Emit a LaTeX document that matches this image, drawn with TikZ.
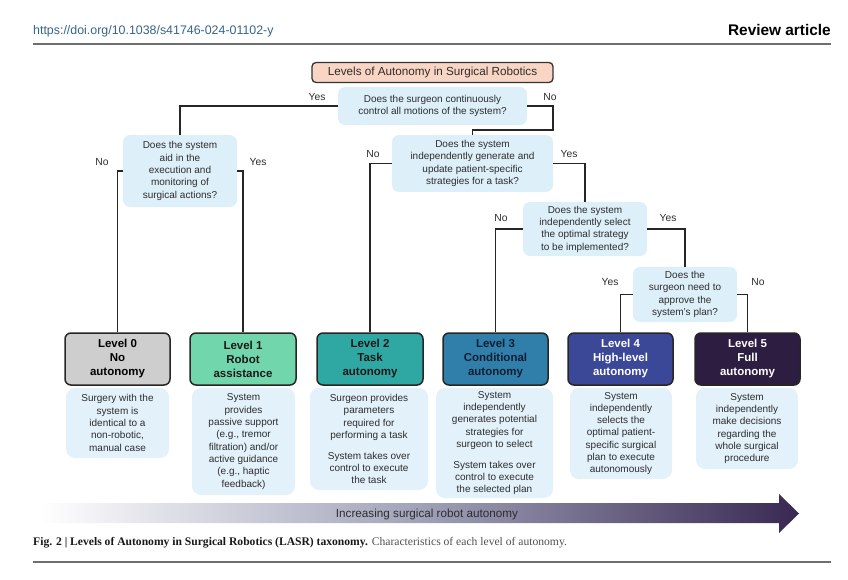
\documentclass[tikz,border=0pt]{standalone}
\usepackage{fontspec}
\setmainfont{Liberation Sans}
\newfontfamily\serifcap{Liberation Serif}
\definecolor{qblue}{RGB}{221,239,249}
\definecolor{dblue}{RGB}{226,241,250}
\definecolor{titlefill}{RGB}{249,213,196}
\definecolor{lzero}{RGB}{206,206,206}
\definecolor{lone}{RGB}{114,214,172}
\definecolor{ltwo}{RGB}{47,168,163}
\definecolor{lthree}{RGB}{47,127,170}
\definecolor{lfour}{RGB}{59,72,152}
\definecolor{lfive}{RGB}{45,29,64}
\definecolor{txtgray}{RGB}{45,45,45}
\definecolor{linkblue}{RGB}{52,100,140}
\definecolor{rulegray}{RGB}{110,110,110}
\definecolor{arrowdark}{RGB}{56,40,82}
\definecolor{arrowmid}{RGB}{160,162,184}
\definecolor{capgray}{RGB}{80,80,80}
\definecolor{navytxt}{RGB}{20,30,50}
\begin{document}
\begin{tikzpicture}[x=1pt,y=-1pt,
  qbox/.style={fill=qblue, rounded corners=7pt, align=center, inner sep=0pt,
    text=txtgray, font=\fontsize{10}{12.3}\selectfont},
  dbox/.style={fill=dblue, rounded corners=9pt, align=center, inner sep=0pt,
    text=txtgray, font=\fontsize{10}{12.3}\selectfont},
  lvbox/.style={draw=black!85, line width=1.5pt, rounded corners=6pt, align=center,
    inner sep=0pt, minimum height=52pt, font=\bfseries\fontsize{11.5}{14}\selectfont},
  conn/.style={line width=1.5pt, draw=black!85},
  yn/.style={text=txtgray, inner sep=0pt, font=\fontsize{10.3}{12}\selectfont}
]
\useasboundingbox (0,0) rectangle (848,580);
% header
\node[anchor=base west, inner sep=0pt, text=linkblue, font=\fontsize{12.4}{14}\selectfont] (doi) at (33,35) {https://doi.org/10.1038/s41746-024-01102-y};
\node[anchor=base east, inner sep=0pt, text=black, font=\bfseries\fontsize{15.4}{17}\selectfont] (rev) at (831,36) {Review article};
\draw[rulegray, line width=1.5pt] (33,44) -- (831,44);
% title
\node[draw=black!80, line width=1.3pt, fill=titlefill, rounded corners=4pt, inner sep=0pt,
  minimum width=241pt, minimum height=20pt, text=txtgray, font=\fontsize{11.7}{13}\selectfont] (title) at (432.5,72.5) {Levels of Autonomy in Surgical Robotics};
% questions
\node[qbox, minimum width=189pt, minimum height=38pt] (q1) at (432.5,106) {Does the surgeon continuously\\control all motions of the system?};
\node[qbox, minimum width=114pt, minimum height=72pt] (qa) at (180,171) {Does the system\\aid in the\\execution and\\monitoring of\\surgical actions?};
\node[qbox, minimum width=161pt, minimum height=57pt] (q2) at (472.5,163.5) {Does the system\\independently generate and\\update patient-specific\\strategies for a task?};
\node[qbox, minimum width=124pt, minimum height=54pt] (q3) at (585,229) {Does the system\\independently select\\the optimal strategy\\to be implemented?};
\node[qbox, minimum width=104pt, minimum height=55pt] (q4) at (685,294.5) {Does the\\surgeon need to\\approve the\\system's plan?};
% levels
\node[lvbox, fill=lzero, minimum width=105pt, text=black] (l0) at (117.5,359) {Level 0\\No\\autonomy};
\node[lvbox, fill=lone, minimum width=106pt, text=black!90] (l1) at (243,359) {Level 1\\Robot\\assistance};
\node[lvbox, fill=ltwo, minimum width=106pt, text=black!90] (l2) at (370,359) {Level 2\\Task\\autonomy};
\node[lvbox, fill=lthree, minimum width=105pt, text=navytxt] (l3) at (495.5,359) {Level 3\\Conditional\\autonomy};
\node[lvbox, fill=lfour, minimum width=105pt, text=white] (l4) at (620.5,359) {Level 4\\High-level\\autonomy};
\node[lvbox, fill=lfive, minimum width=105pt, text=white] (l5) at (747.5,359) {Level 5\\Full\\autonomy};
% descriptions
\node[dbox, minimum width=103pt, minimum height=70pt] (d0) at (117.5,423) {Surgery with the\\system is\\identical to a\\non-robotic,\\manual case};
\node[dbox, minimum width=103pt, minimum height=107pt] (d1) at (243.5,441.5) {System\\provides\\passive support\\(e.g., tremor\\filtration) and/or\\active guidance\\(e.g., haptic\\feedback)};
\node[dbox, minimum width=118pt, minimum height=102pt] (d2) at (369,439) {Surgeon provides\\parameters\\required for\\performing a task\\[8.5pt]System takes over\\control to execute\\the task};
\node[dbox, minimum width=117pt, minimum height=110pt] (d3) at (494.5,443) {System\\independently\\generates potential\\strategies for\\surgeon to select\\[8.5pt]System takes over\\control to execute\\the selected plan};
\node[dbox, minimum width=102pt, minimum height=91pt] (d4) at (621,433.5) {System\\independently\\selects the\\optimal patient-\\specific surgical\\plan to execute\\autonomously};
\node[dbox, minimum width=102pt, minimum height=81pt] (d5) at (747,428.5) {System\\independently\\make decisions\\regarding the\\whole surgical\\procedure};
% connectors
\coordinate (j1) at (553,130);
\draw[conn] (q1.west) -| (qa.north);
\draw[conn] (q1.east) -| (j1) -| (q2.north);
\draw[conn] (qa.west) -| (l0.north);
\draw[conn] (qa.east) -| (l1.north);
\draw[conn] (q2.west) -| (l2.north);
\draw[conn] (q2.east) -| (q3.north);
\draw[conn] (q3.west) -| (l3.north);
\draw[conn] (q3.east) -| (q4.north);
\draw[conn] (q4.west) -| (l4.north);
\draw[conn] (q4.east) -| (l5.north);
% yes/no labels
\node[yn] (y1) at (317,97) {Yes};
\node[yn] (n1) at (550,97) {No};
\node[yn] (na) at (102,162) {No};
\node[yn] (ya) at (258,162) {Yes};
\node[yn] (n2) at (373,154) {No};
\node[yn] (y2) at (569,154) {Yes};
\node[yn] (n3) at (501,218) {No};
\node[yn] (y3) at (668,218) {Yes};
\node[yn] (y4) at (610,282) {Yes};
\node[yn] (n4) at (758,282) {No};
% arrow
\shade[left color=white, right color=arrowdark, middle color=arrowmid]
  (40,503) -- (779,503) -- (779,494) -- (799,513.5) -- (779,533) -- (779,523) -- (40,523) -- cycle;
\node[inner sep=0pt, text=txtgray, font=\fontsize{11.7}{13}\selectfont] (arr) at (427,514) {Increasing surgical robot autonomy};
% caption
\node[anchor=base west, inner sep=0pt, font=\serifcap\fontsize{11.6}{13}\selectfont] (cap) at (33,545) {{\bfseries\color{black!90}Fig. 2 | Levels of Autonomy in Surgical Robotics (LASR) taxonomy.} {\color{capgray}Characteristics of each level of autonomy.}};
\draw[rulegray, line width=1.5pt] (33,562) -- (831,562);
\end{tikzpicture}
\end{document}
